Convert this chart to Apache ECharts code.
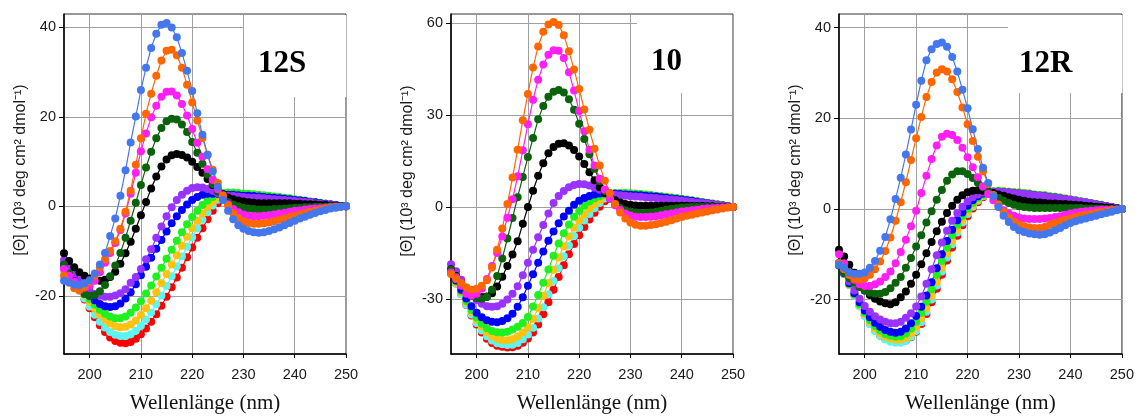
<!DOCTYPE html>
<html><head><meta charset="utf-8">
<script src="https://cdn.jsdelivr.net/npm/echarts@6/dist/echarts.min.js"></script>
<style>html,body{margin:0;padding:0;background:#fff}#c{width:1137px;height:419px}</style>
</head><body><div id="c"></div>
<script>
// ---------- categories / ticks ----------
const wavelengths = [195,196,197,198,199,200,201,202,203,204,205,206,207,208,209,210,211,212,213,214,215,216,217,218,219,220,221,222,223,224,225,226,227,228,229,230,231,232,233,234,235,236,237,238,239,240,241,242,243,244,245,246,247,248,249,250];
const xTicks = [200,210,220,230,240,250];
const yTicks12S = [-20,0,20,40];
const yTicks10 = [-30,0,30,60];
const yTicks12R = [-20,0,20,40];
const panelTitles = ['12S','10','12R'];
const seriesKeys = ['red','cyan','gold','lime','blue','purple','black','darkgreen','magenta','orange','cornflower'];

// ---------- panel 12S ----------
const s12S_red = [-14.0,-15.5,-17.0,-18.8,-20.8,
-22.8,-24.8,-26.6,-28.1,-29.3,-30.1,-30.5,-30.6,-30.3,-29.6,
-28.6,-27.3,-25.8,-24.1,-22.2,-20.2,-18.1,-15.9,-13.7,-11.4,
-9.2,-7.0,-4.9,-2.9,-1.0,0.7,2.0,2.6,2.7,2.7,
2.6,2.5,2.4,2.3,2.2,2.1,2.0,1.9,1.7,1.6,
1.4,1.3,1.1,1.0,0.8,0.7,0.5,0.4,0.3,0.1,
0.0];
const s12S_cyan = [-14.5,-15.8,-17.2,-18.8,-20.6,
-22.4,-24.2,-25.8,-27.1,-28.1,-28.7,-29.0,-29.0,-28.6,-27.8,
-26.7,-25.3,-23.7,-21.9,-19.9,-17.8,-15.6,-13.4,-11.2,-9.0,
-6.9,-4.9,-3.0,-1.3,0.2,1.5,2.4,2.7,2.8,2.7,
2.6,2.5,2.4,2.3,2.2,2.1,2.0,1.9,1.8,1.6,
1.5,1.3,1.2,1.0,0.9,0.7,0.6,0.4,0.3,0.1,
0.0];
const s12S_gold = [-14.0,-15.3,-16.7,-18.2,-19.8,
-21.4,-22.9,-24.2,-25.3,-26.2,-26.8,-27.0,-26.9,-26.4,-25.5,
-24.3,-22.8,-21.1,-19.2,-17.2,-15.1,-13.0,-10.9,-8.8,-6.8,
-4.9,-3.2,-1.6,-0.2,1.0,2.0,2.7,2.9,2.9,2.8,
2.7,2.6,2.5,2.4,2.3,2.2,2.1,2.0,1.8,1.7,
1.5,1.4,1.2,1.1,0.9,0.7,0.6,0.4,0.3,0.1,
0.0];
const s12S_lime = [-13.5,-14.8,-16.2,-17.7,-19.2,
-20.7,-22.0,-23.1,-24.0,-24.6,-25.0,-25.0,-24.6,-23.8,-22.6,
-21.2,-19.5,-17.7,-15.7,-13.7,-11.7,-9.7,-7.7,-5.8,-4.0,
-2.4,-1.0,0.3,1.3,2.1,2.7,3.0,3.1,3.1,3.0,
2.9,2.8,2.7,2.6,2.5,2.4,2.2,2.1,1.9,1.8,
1.6,1.4,1.3,1.1,0.9,0.8,0.6,0.4,0.3,0.1,
0.0];
const s12S_blue = [-13.0,-14.4,-15.9,-17.4,-18.8,
-20.0,-21.0,-21.8,-22.3,-22.5,-22.3,-21.7,-20.6,-19.2,-17.4,
-15.4,-13.5,-11.5,-9.5,-7.5,-5.6,-3.8,-2.2,-0.8,0.4,
1.4,2.1,2.6,2.8,2.8,2.8,2.7,2.6,2.6,2.5,
2.4,2.4,2.3,2.2,2.1,2.0,1.9,1.8,1.7,1.6,
1.4,1.3,1.2,1.0,0.9,0.7,0.6,0.4,0.3,0.1,
0.0];
const s12S_purple = [-12.0,-13.5,-15.0,-16.5,-17.8,
-18.9,-19.6,-20.0,-20.2,-20.2,-19.9,-19.4,-18.5,-17.1,-15.8,
-14.0,-11.8,-9.6,-7.0,-4.5,-2.2,-0.2,1.4,2.6,3.5,
4.1,4.3,4.2,3.9,3.5,3.0,2.6,2.4,2.3,2.2,
2.1,2.0,1.9,1.9,1.8,1.7,1.6,1.5,1.4,1.3,
1.2,1.1,1.0,0.9,0.7,0.6,0.5,0.4,0.2,0.1,
0.0];
const s12S_black = [-10.5,-12.2,-13.6,-14.7,-15.5,
-16.1,-16.5,-16.6,-16.4,-15.8,-14.6,-12.8,-10.5,-7.9,-5.0,
-2.0,1.0,4.0,6.7,8.9,10.5,11.4,11.7,11.5,10.9,
10.0,8.8,7.5,6.1,4.8,3.6,2.7,2.0,1.6,1.3,
1.1,0.9,0.8,0.7,0.7,0.7,0.7,0.7,0.7,0.7,
0.6,0.6,0.5,0.5,0.4,0.3,0.3,0.2,0.1,0.1,
0.0];
const s12S_darkgreen = [-13.0,-15.0,-17.0,-18.6,-19.6,
-20.0,-19.8,-19.0,-17.6,-15.6,-13.2,-10.4,-7.0,-3.2,0.8,
4.8,8.7,12.2,15.2,17.5,19.0,19.6,19.4,18.3,16.6,
14.4,12.0,9.5,7.1,5.0,3.3,2.0,1.0,0.4,0.0,
-0.3,-0.5,-0.6,-0.7,-0.7,-0.7,-0.6,-0.6,-0.5,-0.4,
-0.3,-0.3,-0.2,-0.2,-0.1,-0.1,-0.1,0.0,0.0,0.0,
0.0];
const s12S_magenta = [-14.0,-15.5,-16.9,-18.0,-18.2,
-17.7,-16.6,-14.7,-12.6,-10.4,-8.2,-5.3,-1.6,2.8,7.5,
12.3,16.3,19.9,22.5,24.5,25.6,25.7,24.8,22.9,20.3,
17.3,14.2,11.1,8.3,5.9,3.8,2.0,0.5,-0.6,-1.3,
-1.8,-2.1,-2.2,-2.2,-2.1,-2.0,-1.8,-1.6,-1.4,-1.2,
-1.0,-0.9,-0.7,-0.6,-0.5,-0.4,-0.3,-0.2,-0.1,-0.1,
0.0];
const s12S_orange = [-15.5,-17.0,-18.3,-18.7,-18.0,
-16.8,-15.5,-13.6,-11.8,-10.0,-7.8,-5.0,-1.2,3.5,9.3,
15.2,20.7,25.2,29.2,32.6,34.8,35.0,33.8,31.0,27.2,
23.2,19.2,15.3,11.6,8.2,5.2,2.5,0.2,-1.5,-2.6,
-3.3,-3.7,-3.9,-3.9,-3.8,-3.6,-3.3,-3.0,-2.7,-2.4,
-2.1,-1.8,-1.5,-1.2,-1.0,-0.7,-0.5,-0.3,-0.2,-0.1,
0.0];
const s12S_cornflower = [-16.6,-17.0,-17.5,-17.6,-17.2,
-16.5,-15.0,-13.0,-10.4,-6.6,-2.7,2.4,8.1,14.3,20.1,
26.0,31.0,35.4,38.6,40.6,41.0,40.0,37.8,34.3,30.3,
25.8,20.8,16.0,11.5,7.8,4.4,1.4,-1.0,-2.9,-4.2,
-5.0,-5.5,-5.8,-5.9,-5.8,-5.5,-5.1,-4.7,-4.2,-3.7,
-3.2,-2.7,-2.3,-1.9,-1.5,-1.1,-0.8,-0.5,-0.3,-0.1,
0.0];

// ---------- panel 10 ----------
const s10_red = [-21.5,-25.0,-28.5,-32.0,-35.4,
-38.4,-41.0,-43.0,-44.4,-45.3,-45.6,-45.9,-45.8,-45.3,-44.3,
-42.9,-41.0,-38.4,-35.0,-31.1,-27.0,-22.9,-19.0,-15.4,-12.1,
-9.2,-6.5,-4.1,-1.9,0.1,1.9,3.5,4.2,4.4,4.4,
4.3,4.2,4.0,3.9,3.7,3.5,3.3,3.1,2.9,2.7,
2.5,2.2,2.0,1.8,1.5,1.3,1.0,0.8,0.5,0.3,
0.0];
const s10_cyan = [-21.5,-25.0,-28.5,-31.9,-35.1,
-37.9,-40.3,-42.2,-43.6,-44.5,-44.8,-45.1,-45.0,-44.4,-43.2,
-41.6,-39.4,-36.4,-32.7,-28.5,-24.2,-20.0,-16.1,-12.6,-9.5,
-6.8,-4.4,-2.3,-0.4,1.3,2.8,4.0,4.4,4.4,4.4,
4.3,4.2,4.0,3.9,3.7,3.5,3.3,3.1,2.9,2.7,
2.5,2.2,2.0,1.8,1.5,1.3,1.0,0.8,0.5,0.3,
0.0];
const s10_gold = [-21.3,-24.7,-28.0,-31.2,-34.2,
-36.8,-39.0,-40.8,-42.1,-43.0,-43.4,-43.5,-43.2,-42.3,-41.0,
-39.3,-36.6,-33.0,-29.0,-24.8,-20.5,-16.5,-12.8,-9.6,-6.8,
-4.4,-2.4,-0.6,1.0,2.3,3.4,4.2,4.5,4.5,4.5,
4.4,4.3,4.1,4.0,3.8,3.6,3.4,3.2,3.0,2.8,
2.6,2.3,2.1,1.8,1.6,1.3,1.1,0.8,0.5,0.3,
0.0];
const s10_lime = [-21.0,-24.3,-27.6,-30.7,-33.6,
-36.1,-38.1,-39.6,-40.5,-40.9,-41.0,-40.7,-40.0,-39.1,-37.9,
-35.9,-32.5,-28.7,-24.7,-20.4,-15.9,-11.9,-8.6,-5.7,-3.2,
-1.3,0.4,1.8,2.8,3.5,4.1,4.5,4.6,4.6,4.6,
4.5,4.4,4.2,4.1,3.9,3.7,3.5,3.3,3.1,2.9,
2.6,2.4,2.1,1.9,1.6,1.4,1.1,0.8,0.6,0.3,
0.0];
const s10_blue = [-21.0,-24.0,-27.0,-29.9,-32.4,
-34.5,-36.0,-37.0,-37.5,-37.6,-37.2,-36.3,-34.9,-32.6,-29.5,
-25.7,-22.0,-18.2,-14.5,-11.0,-8.0,-5.3,-3.1,-1.2,0.7,
2.0,2.9,3.6,4.1,4.4,4.5,4.4,4.3,4.2,4.1,
4.0,3.9,3.8,3.7,3.5,3.4,3.2,3.0,2.8,2.6,
2.4,2.2,2.0,1.7,1.5,1.2,1.0,0.7,0.5,0.2,
0.0];
const s10_purple = [-18.7,-21.0,-23.8,-26.6,-28.9,
-30.4,-31.6,-32.4,-32.6,-32.4,-31.6,-30.2,-28.3,-25.9,-22.3,
-18.2,-14.0,-9.9,-5.9,-2.1,1.3,3.6,5.2,6.4,7.2,
7.5,7.4,7.0,6.3,5.6,4.9,4.4,4.0,3.8,3.7,
3.5,3.4,3.3,3.1,3.0,2.9,2.7,2.6,2.4,2.3,
2.1,1.9,1.7,1.5,1.3,1.1,0.9,0.7,0.4,0.2,
0.0];
const s10_black = [-20.3,-22.5,-25.0,-27.0,-28.3,
-29.0,-29.4,-29.2,-28.2,-26.0,-22.8,-19.3,-15.5,-11.2,-5.5,
0.0,5.3,10.2,14.3,17.5,19.6,20.6,20.8,20.1,18.6,
16.5,14.0,11.3,8.7,6.4,4.6,3.2,2.2,1.5,1.0,
0.7,0.5,0.4,0.4,0.4,0.4,0.4,0.4,0.4,0.4,
0.4,0.4,0.3,0.3,0.3,0.2,0.2,0.1,0.1,0.0,
0.0];
const s10_darkgreen = [-20.5,-22.8,-25.3,-27.6,-29.0,
-29.7,-30.0,-29.4,-27.0,-22.5,-16.8,-10.3,-3.6,3.2,9.8,
16.3,22.5,28.6,33.0,36.0,37.6,38.2,37.4,35.2,31.7,
27.2,22.2,17.2,12.5,8.5,5.2,2.7,0.9,-0.3,-1.1,
-1.6,-1.8,-1.9,-1.9,-1.8,-1.6,-1.2,-0.9,-0.6,-0.4,
-0.2,-0.1,0.0,0.0,0.0,0.0,0.0,0.0,0.0,0.0,
0.0];
const s10_magenta = [-21.4,-23.0,-25.7,-28.3,-28.9,
-28.3,-26.7,-23.5,-19.3,-15.0,-9.6,-3.5,2.5,10.0,18.5,
27.0,35.0,41.5,46.5,49.7,51.2,51.0,48.6,44.0,38.0,
31.3,24.7,18.7,13.5,9.2,5.7,2.8,0.6,-1.0,-2.1,
-2.8,-3.2,-3.3,-3.3,-3.2,-3.0,-2.7,-2.4,-2.1,-1.8,
-1.5,-1.3,-1.1,-0.9,-0.7,-0.5,-0.4,-0.3,-0.2,-0.1,
0.0];
const s10_orange = [-21.9,-23.5,-24.8,-26.2,-27.0,
-26.7,-25.7,-23.9,-19.8,-14.0,-7.0,1.0,9.6,18.7,28.3,
36.9,45.5,52.4,57.2,59.6,60.4,59.4,56.1,50.8,44.9,
38.5,31.8,25.2,19.0,13.5,8.6,4.5,1.0,-1.8,-3.8,
-5.1,-5.8,-6.1,-6.1,-5.9,-5.6,-5.2,-4.8,-4.3,-3.8,
-3.3,-2.9,-2.5,-2.1,-1.8,-1.5,-1.1,-0.8,-0.5,-0.2,
0.0];

// ---------- panel 12R ----------
const s12R_red = [-12.0,-14.3,-16.7,-19.1,-21.4,
-23.5,-25.3,-26.8,-27.9,-28.7,-29.1,-29.3,-29.3,-29.0,-28.3,
-27.1,-25.4,-23.2,-20.6,-17.6,-14.5,-11.4,-8.5,-5.9,-3.6,
-1.6,0.1,1.5,2.6,3.3,3.7,3.8,3.8,3.7,3.6,
3.5,3.4,3.3,3.1,3.0,2.9,2.7,2.6,2.4,2.2,
2.0,1.8,1.6,1.4,1.2,1.0,0.8,0.6,0.4,0.2,
0.0];
const s12R_cyan = [-12.0,-14.4,-16.8,-19.2,-21.5,
-23.6,-25.4,-26.9,-28.0,-28.8,-29.3,-29.5,-29.5,-29.1,-28.2,
-26.9,-25.0,-22.7,-20.0,-16.9,-13.8,-10.7,-7.8,-5.2,-3.0,
-1.1,0.5,1.8,2.8,3.4,3.7,3.8,3.8,3.7,3.6,
3.5,3.4,3.3,3.1,3.0,2.9,2.7,2.6,2.4,2.2,
2.0,1.8,1.6,1.4,1.2,1.0,0.8,0.6,0.4,0.2,
0.0];
const s12R_gold = [-12.0,-14.3,-16.7,-19.0,-21.2,
-23.2,-24.9,-26.3,-27.4,-28.2,-28.6,-28.8,-28.8,-28.4,-27.5,
-26.1,-24.2,-21.9,-19.2,-16.1,-13.0,-9.9,-7.1,-4.6,-2.5,
-0.7,0.8,2.0,2.9,3.5,3.8,3.9,3.9,3.8,3.7,
3.6,3.5,3.4,3.2,3.1,3.0,2.8,2.7,2.5,2.3,
2.1,1.9,1.7,1.5,1.3,1.1,0.9,0.6,0.4,0.2,
0.0];
const s12R_lime = [-12.0,-14.3,-16.6,-18.9,-21.0,
-22.9,-24.5,-25.8,-26.8,-27.6,-28.0,-28.2,-28.1,-27.5,-26.4,
-24.9,-22.9,-20.5,-17.7,-14.6,-11.5,-8.5,-5.8,-3.5,-1.6,
0.0,1.3,2.4,3.1,3.6,3.9,4.0,3.9,3.8,3.7,
3.6,3.5,3.4,3.2,3.1,3.0,2.8,2.7,2.5,2.3,
2.1,1.9,1.7,1.5,1.3,1.1,0.9,0.6,0.4,0.2,
0.0];
const s12R_blue = [-12.0,-14.2,-16.4,-18.6,-20.6,
-22.4,-23.9,-25.1,-26.0,-26.7,-27.1,-27.3,-27.1,-26.4,-25.2,
-23.6,-21.6,-19.1,-16.2,-13.1,-10.0,-7.1,-4.6,-2.5,-0.8,
0.7,1.9,2.8,3.4,3.7,3.8,3.8,3.7,3.6,3.5,
3.4,3.3,3.2,3.0,2.9,2.8,2.6,2.5,2.3,2.2,
2.0,1.8,1.6,1.4,1.2,1.0,0.8,0.6,0.4,0.2,
0.0];
const s12R_purple = [-12.0,-14.0,-16.0,-18.0,-19.8,
-21.4,-22.7,-23.7,-24.4,-24.9,-25.2,-25.2,-24.9,-24.0,-23.0,
-21.5,-19.3,-16.5,-13.3,-10.2,-7.4,-4.8,-2.6,-0.9,0.5,
1.7,2.6,3.2,3.6,3.8,3.8,3.8,3.7,3.6,3.5,
3.4,3.3,3.2,3.0,2.9,2.8,2.6,2.5,2.3,2.2,
2.0,1.8,1.6,1.4,1.2,1.0,0.8,0.6,0.4,0.2,
0.0];
const s12R_black = [-9.0,-10.5,-12.3,-14.1,-16.5,
-18.0,-19.0,-19.8,-20.4,-20.8,-21.0,-20.6,-19.5,-18.2,-16.5,
-14.5,-12.2,-9.8,-7.3,-4.9,-2.8,-0.9,0.7,2.0,3.0,
3.7,4.0,4.1,4.0,3.8,3.5,3.2,2.9,2.6,2.3,
2.0,1.8,1.6,1.5,1.4,1.3,1.2,1.2,1.1,1.1,
1.0,0.9,0.8,0.7,0.6,0.5,0.4,0.3,0.2,0.1,
0.0];
const s12R_darkgreen = [-12.5,-14.0,-15.3,-16.3,-17.2,
-18.0,-18.5,-18.7,-18.7,-18.3,-17.5,-16.3,-15.0,-13.0,-10.8,
-8.3,-5.8,-3.0,-0.5,2.0,4.2,6.2,7.6,8.3,8.3,
7.7,6.8,5.8,4.8,3.9,3.1,2.4,1.8,1.3,0.9,
0.6,0.4,0.3,0.2,0.2,0.2,0.2,0.2,0.2,0.2,
0.2,0.2,0.2,0.1,0.1,0.1,0.1,0.0,0.0,0.0,
0.0];
const s12R_magenta = [-10.0,-12.0,-14.1,-15.6,-16.6,
-17.0,-17.0,-16.6,-16.0,-15.0,-13.8,-12.0,-9.5,-6.8,-3.8,
-0.4,3.5,7.3,11.0,14.0,15.9,16.6,16.3,15.2,13.5,
11.4,9.2,7.0,5.0,3.3,1.9,0.7,-0.3,-1.0,-1.5,
-1.9,-2.1,-2.2,-2.2,-2.2,-2.1,-2.0,-1.8,-1.6,-1.3,
-1.0,-0.8,-0.6,-0.5,-0.4,-0.3,-0.2,-0.2,-0.1,-0.1,
0.0];
const s12R_orange = [-12.0,-13.3,-14.6,-15.4,-15.6,
-15.3,-14.5,-13.3,-11.6,-9.3,-6.3,-2.6,1.5,5.9,10.8,
15.6,20.3,24.7,28.0,30.1,30.8,30.3,28.6,25.8,22.4,
18.7,15.0,11.5,8.3,5.5,3.1,1.0,-0.7,-1.9,-2.8,
-3.4,-3.8,-4.1,-4.2,-4.2,-4.0,-3.5,-3.1,-2.7,-2.4,
-2.1,-1.8,-1.5,-1.3,-1.1,-0.9,-0.7,-0.5,-0.3,-0.2,
0.0];
const s12R_cornflower = [-12.3,-13.0,-14.0,-14.3,-14.3,
-14.0,-13.0,-11.5,-9.2,-6.2,-2.3,2.2,6.9,12.0,17.5,
23.0,28.3,32.8,35.2,36.4,36.7,35.8,33.5,30.3,26.3,
22.2,17.6,13.2,9.1,5.7,2.8,0.4,-1.5,-2.9,-4.0,
-4.7,-5.1,-5.4,-5.6,-5.7,-5.6,-5.2,-4.7,-4.2,-3.6,
-3.1,-2.7,-2.4,-2.1,-1.8,-1.5,-1.2,-0.9,-0.6,-0.3,
0.0];

// ---------- styling / layout ----------
const colorOf = {red:'#ff0000', cyan:'#5cf5f5', gold:'#ffc20e', lime:'#1ff01f', blue:'#0000ff',
  purple:'#9933ff', black:'#000000', darkgreen:'#0a620a', magenta:'#ff1ff5', orange:'#ff6600', cornflower:'#4477ee'};

const panelSeries = [
  {red:s12S_red, cyan:s12S_cyan, gold:s12S_gold, lime:s12S_lime, blue:s12S_blue, purple:s12S_purple, black:s12S_black, darkgreen:s12S_darkgreen, magenta:s12S_magenta, orange:s12S_orange, cornflower:s12S_cornflower},
  {red:s10_red, cyan:s10_cyan, gold:s10_gold, lime:s10_lime, blue:s10_blue, purple:s10_purple, black:s10_black, darkgreen:s10_darkgreen, magenta:s10_magenta, orange:s10_orange},
  {red:s12R_red, cyan:s12R_cyan, gold:s12R_gold, lime:s12R_lime, blue:s12R_blue, purple:s12R_purple, black:s12R_black, darkgreen:s12R_darkgreen, magenta:s12R_magenta, orange:s12R_orange, cornflower:s12R_cornflower}
];
const layout = [
  {grid:{left:64, top:14, width:282, height:345}, yMin:-33, yMax:43, yTicks:yTicks12S,
   title:{left:244, top:15, padding:[33,40,18,14]}, yName:[21,170]},
  {grid:{left:451, top:14, width:282, height:345}, yMin:-48, yMax:63, yTicks:yTicks10,
   title:{left:637, top:15, padding:[31,50,16,14]}, yName:[407.5,171]},
  {grid:{left:839, top:14, width:283, height:345}, yMin:-32, yMax:43, yTicks:yTicks12R,
   title:{left:1008, top:15, padding:[33,50,14,11]}, yName:[796,170]}
];

const sans = '"Liberation Sans", Arial, Helvetica, sans-serif';
const serif = '"Liberation Serif", "Times New Roman", serif';
const yNameText = '[\u0398] (10\u00B3 deg cm\u00B2 dmol\u207B\u00B9)';

const grids = [], xAxes = [], yAxes = [], titles = [], series = [], graphics = [];
const problems = [];
layout.forEach((L, p) => {
  grids.push(Object.assign({show:true, borderColor:'#333', borderWidth:1, backgroundColor:'transparent', containLabel:false}, L.grid));
  xAxes.push({type:'value', gridIndex:p, min:195, max:250,
    axisLine:{show:true, onZero:false, lineStyle:{color:'#000', width:1.5}},
    axisTick:{show:true, inside:false, length:4, customValues:xTicks, lineStyle:{color:'#000'}},
    axisLabel:{customValues:xTicks, fontFamily:sans, fontSize:14.5, color:'#1a1a1a', margin:13},
    splitLine:{show:true, lineStyle:{color:'#a0a0a0', width:1}},
    name:'Wellenlänge (nm)', nameLocation:'middle', nameGap:39,
    nameTextStyle:{fontFamily:serif, fontSize:21, color:'#111'}});
  yAxes.push({type:'value', gridIndex:p, min:L.yMin, max:L.yMax,
    axisLine:{show:true, onZero:false, lineStyle:{color:'#000', width:1.5}},
    axisTick:{show:true, inside:false, length:5, customValues:L.yTicks, lineStyle:{color:'#000'}},
    axisLabel:{customValues:L.yTicks, fontFamily:sans, fontSize:14.5, color:'#1a1a1a', margin:8},
    splitLine:{show:true, lineStyle:{color:'#a0a0a0', width:1}}});
  titles.push({text:panelTitles[p], left:L.title.left, top:L.title.top, padding:L.title.padding,
    backgroundColor:'#fff',
    textStyle:{fontFamily:serif, fontWeight:'bold', fontSize:31, lineHeight:31, color:'#000'}});
  graphics.push({type:'text', x:L.yName[0], y:L.yName[1], rotation:Math.PI/2,
    style:{text:yNameText, font:'16px ' + sans, fill:'#1a1a1a', align:'center', verticalAlign:'middle',
      textAlign:'center', textVerticalAlign:'middle'}});
  seriesKeys.forEach(k => {
    const arr = panelSeries[p][k];
    if (!arr) return;
    if (arr.length !== wavelengths.length) problems.push(panelTitles[p] + ' ' + k + ' ' + arr.length);
    series.push({type:'line', name:panelTitles[p] + ' ' + k, xAxisIndex:p, yAxisIndex:p,
      data: wavelengths.map((w, i) => [w, arr[i]]),
      symbol:'circle', symbolSize:8, showSymbol:true,
      lineStyle:{width:1.2, color:colorOf[k]}, itemStyle:{color:colorOf[k]},
      emphasis:{disabled:true}, silent:true, animation:false});
  });
});
if (problems.length) graphics.push({type:'text', x:10, y:10, style:{text:'LEN ' + problems.join('; '), fill:'red', font:'12px sans-serif'}});

const chart = echarts.init(document.getElementById('c'), null, {renderer:'canvas'});
chart.setOption({animation:false, backgroundColor:'#fff', title:titles, grid:grids, xAxis:xAxes, yAxis:yAxes, series:series, graphic:graphics});
</script></body></html>
